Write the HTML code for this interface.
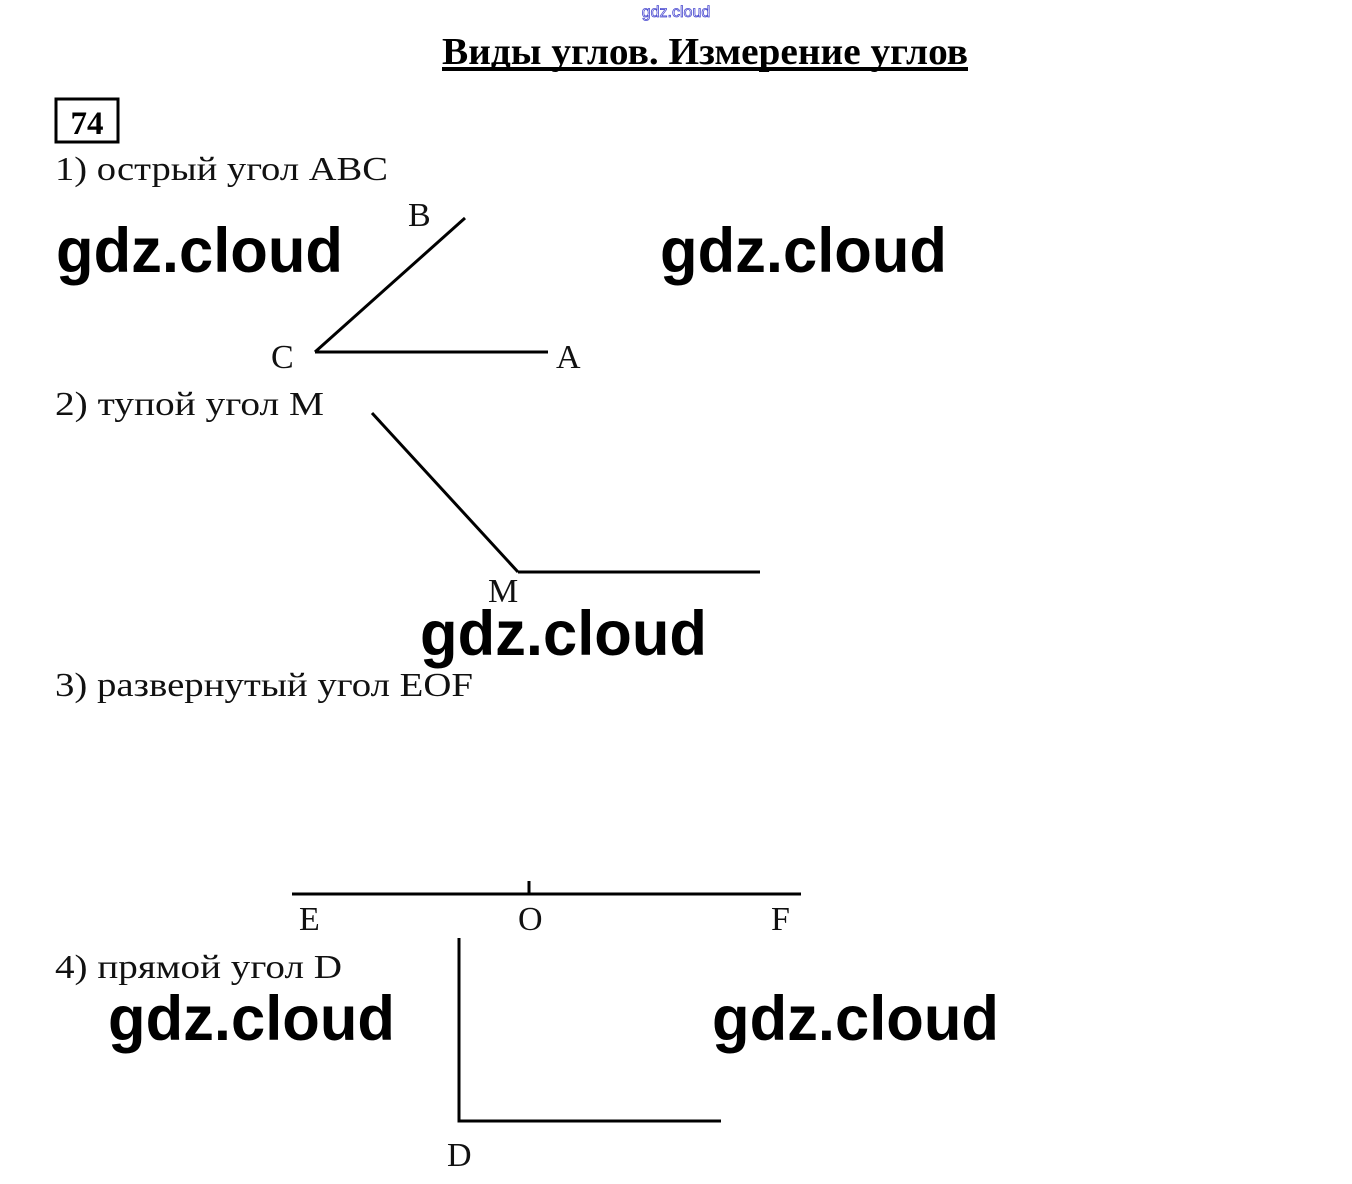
<!DOCTYPE html>
<html><head><meta charset="utf-8"><style>
html,body{margin:0;padding:0;background:#fff}
svg{display:block}
.s{font-family:"Liberation Serif",serif;font-size:34px;fill:#111}
.w{font-family:"Liberation Sans",sans-serif;font-weight:bold;font-size:63px;fill:#000}
</style></head><body>
<svg width="1352" height="1184" viewBox="0 0 1352 1184" xmlns="http://www.w3.org/2000/svg">
<text x="676" y="17" text-anchor="middle" font-family="Liberation Sans,sans-serif" font-size="16" fill="#fff" stroke="#4a4ad0" stroke-width="0.8">gdz.cloud</text>
<text x="442" y="64" font-family="Liberation Serif,serif" font-weight="bold" font-size="38" fill="#000" textLength="526" lengthAdjust="spacingAndGlyphs">Виды углов. Измерение углов</text>
<rect x="442" y="67" width="526" height="4" fill="#000"/>
<rect x="56" y="99" width="62" height="43" fill="none" stroke="#000" stroke-width="3"/>
<text x="87" y="134" text-anchor="middle" font-family="Liberation Serif,serif" font-weight="bold" font-size="33">74</text>
<text class="s" x="55" y="180" textLength="333" lengthAdjust="spacingAndGlyphs">1) острый угол ABC</text>
<text class="s" x="55" y="415" textLength="269" lengthAdjust="spacingAndGlyphs">2) тупой угол M</text>
<text class="s" x="55" y="696" textLength="418" lengthAdjust="spacingAndGlyphs">3) развернутый угол EOF</text>
<text class="s" x="55" y="978" textLength="287" lengthAdjust="spacingAndGlyphs">4) прямой угол D</text>
<g stroke="#000" stroke-width="3" fill="none">
<line x1="315" y1="352" x2="465" y2="218"/>
<line x1="315" y1="352" x2="548" y2="352"/>
<line x1="372" y1="413" x2="518" y2="572"/>
<line x1="518" y1="572" x2="760" y2="572"/>
<line x1="292" y1="894" x2="801" y2="894"/>
<line x1="529" y1="881" x2="529" y2="894"/>
<polyline points="459,938 459,1121 721,1121"/>
</g>
<text class="s" x="408" y="226">B</text>
<text class="s" x="271" y="368">C</text>
<text class="s" x="556" y="368">A</text>
<text class="s" x="488" y="602">M</text>
<text class="s" x="299" y="930">E</text>
<text class="s" x="518" y="930">O</text>
<text class="s" x="771" y="930">F</text>
<text class="s" x="447" y="1166">D</text>
<text class="w" x="56" y="272" textLength="287" lengthAdjust="spacingAndGlyphs">gdz.cloud</text>
<text class="w" x="660" y="272" textLength="287" lengthAdjust="spacingAndGlyphs">gdz.cloud</text>
<text class="w" x="420" y="655" textLength="287" lengthAdjust="spacingAndGlyphs">gdz.cloud</text>
<text class="w" x="108" y="1040" textLength="287" lengthAdjust="spacingAndGlyphs">gdz.cloud</text>
<text class="w" x="712" y="1040" textLength="287" lengthAdjust="spacingAndGlyphs">gdz.cloud</text>
</svg>
</body></html>
